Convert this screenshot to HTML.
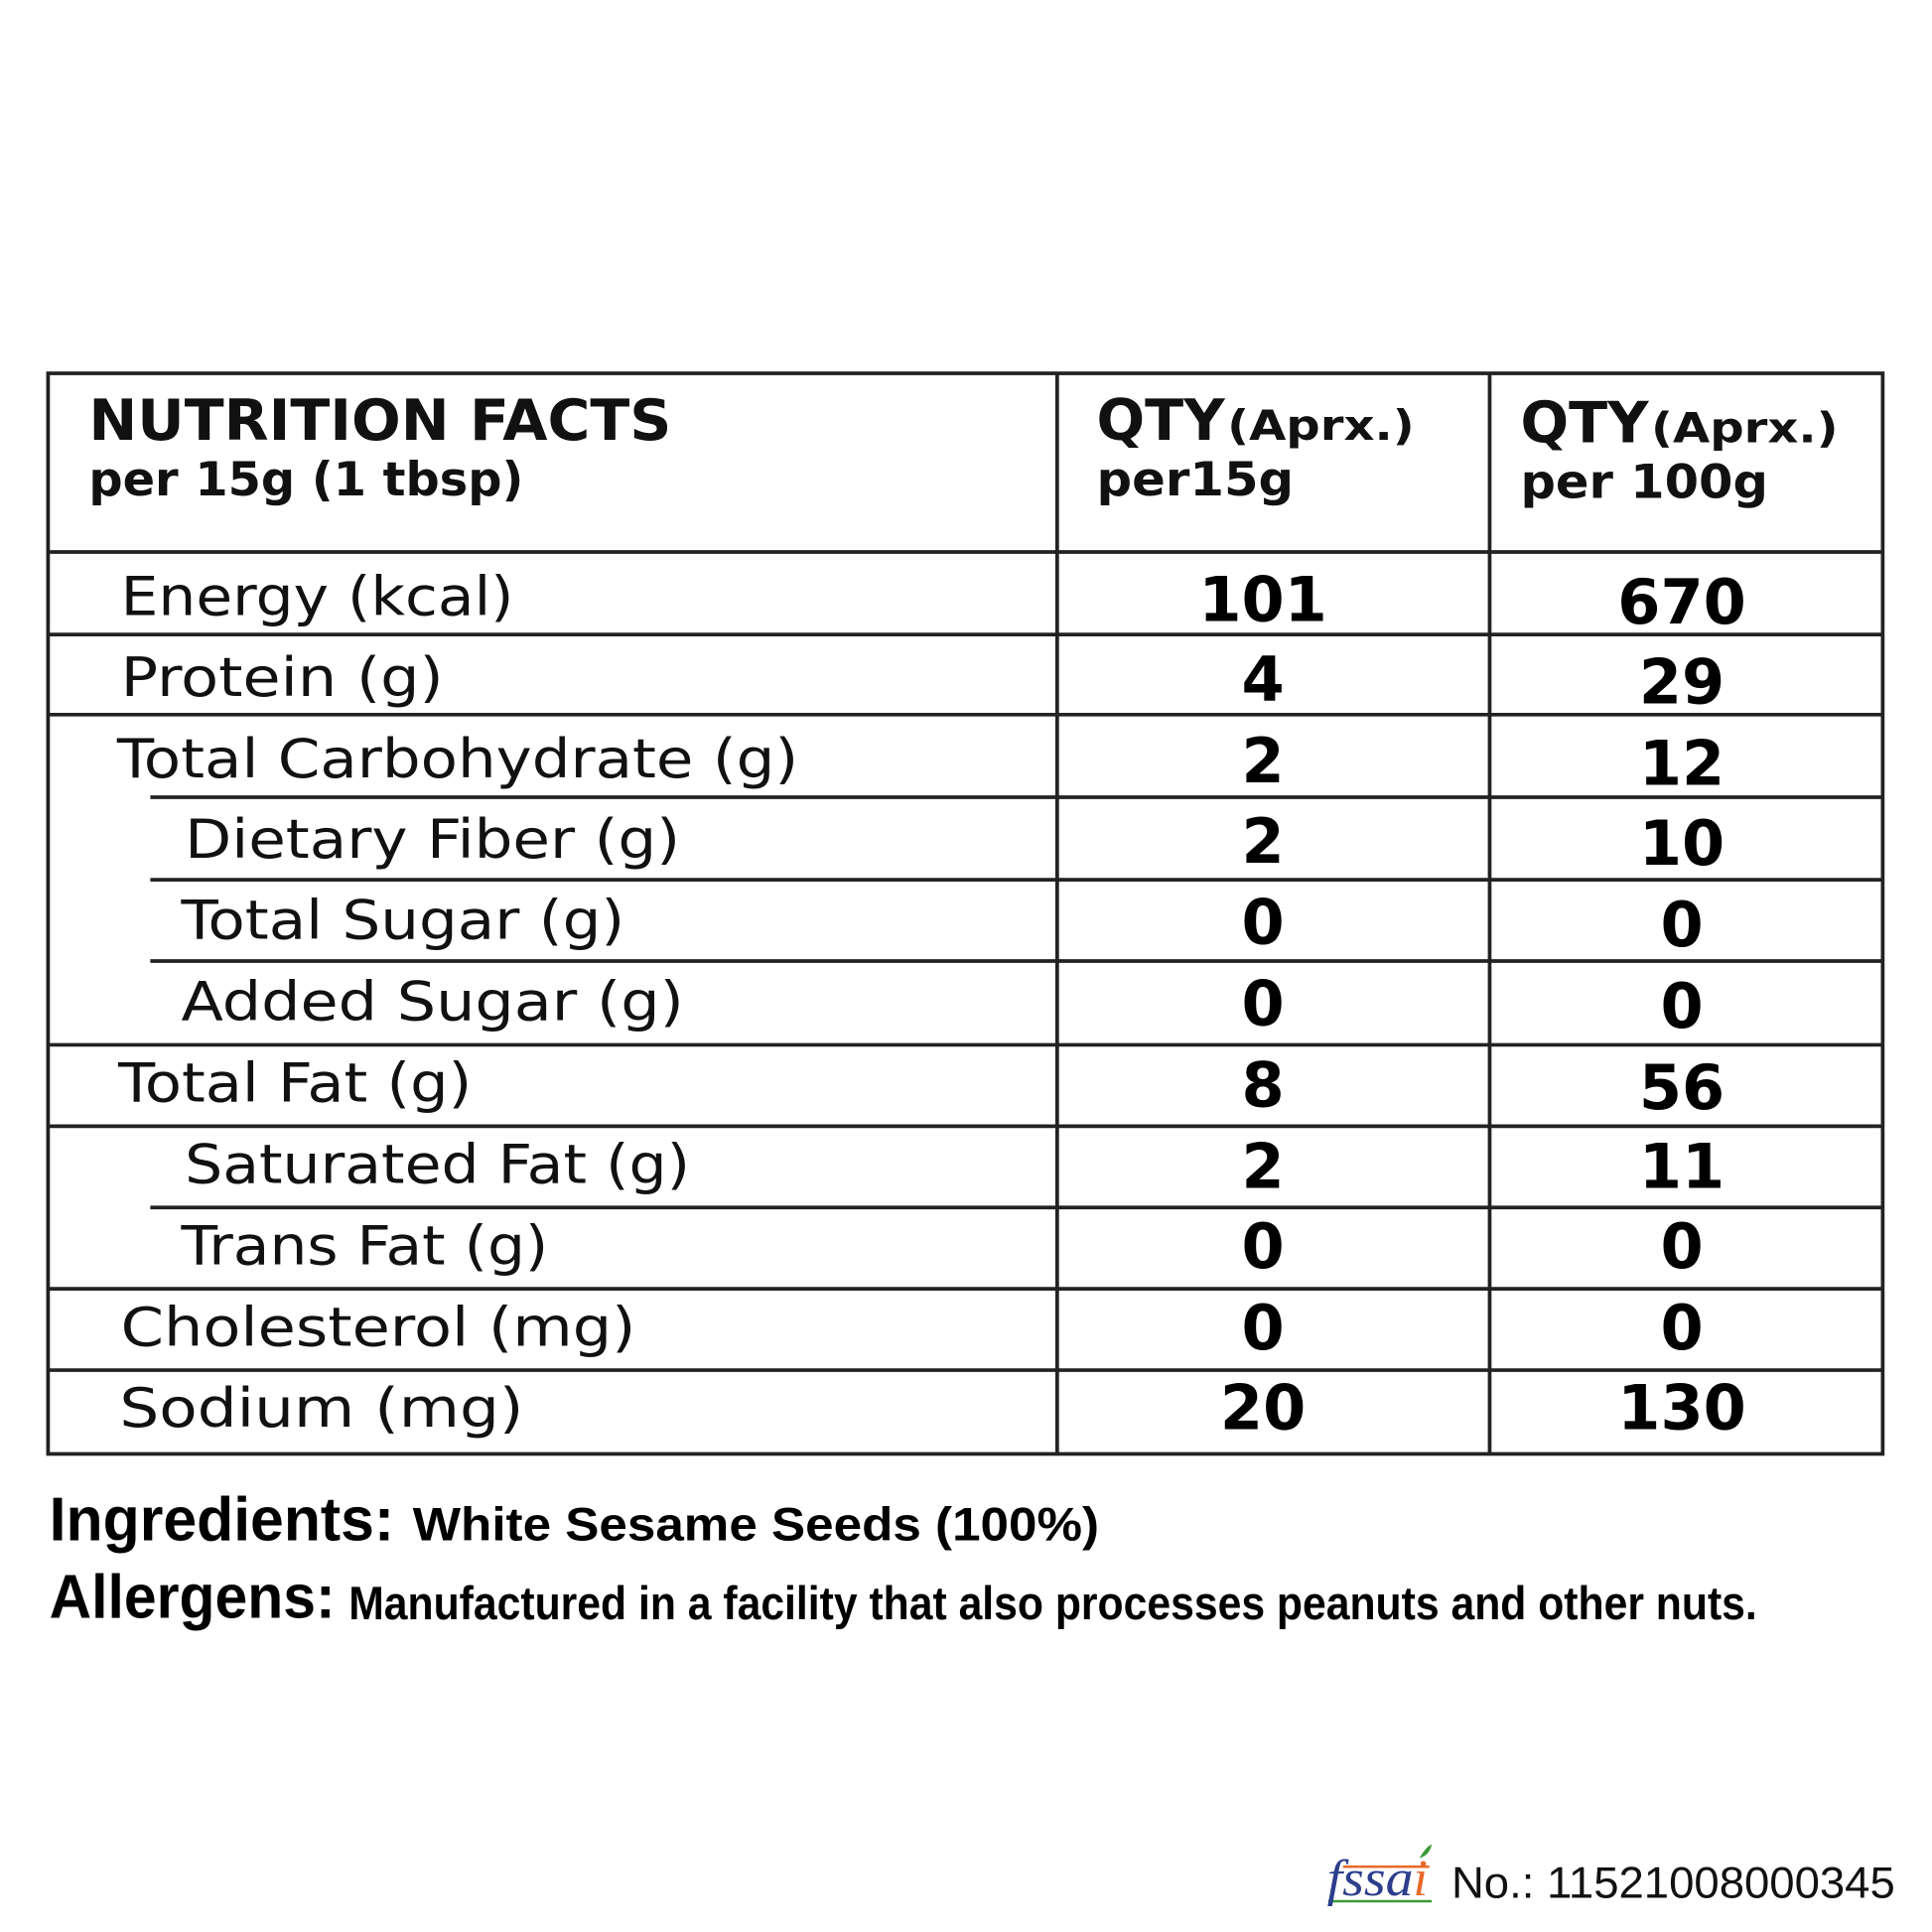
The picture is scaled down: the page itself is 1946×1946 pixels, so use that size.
<!DOCTYPE html>
<html><head><meta charset="utf-8"><style>
html,body{margin:0;padding:0;background:#fff;width:1946px;height:1946px;overflow:hidden}
svg{display:block}
.h{font-family:"DejaVu Sans","Liberation Sans",sans-serif;font-weight:bold;fill:#111}
.l{font-family:"DejaVu Sans","Liberation Sans",sans-serif;font-size:44px;fill:#111}
.n{font-family:"DejaVu Sans","Liberation Sans",sans-serif;font-weight:bold;font-size:50px;fill:#000;text-anchor:middle}
.f{font-family:"Liberation Sans",sans-serif;font-weight:bold;fill:#000}
</style></head><body>
<svg width="1946" height="1946" viewBox="0 0 1568 1568" xmlns="http://www.w3.org/2000/svg">
<g stroke="#222" stroke-width="3" fill="none">
<rect x="39" y="303" width="1489" height="877"/>
<line x1="858" y1="303" x2="858" y2="1180"/>
<line x1="1209" y1="303" x2="1209" y2="1180"/>
<line x1="39" y1="448" x2="1528" y2="448"/>
<line x1="39" y1="515" x2="1528" y2="515"/>
<line x1="39" y1="580" x2="1528" y2="580"/>
<line x1="122" y1="647" x2="1528" y2="647"/>
<line x1="122" y1="714" x2="1528" y2="714"/>
<line x1="122" y1="780" x2="1528" y2="780"/>
<line x1="39" y1="848" x2="1528" y2="848"/>
<line x1="39" y1="914" x2="1528" y2="914"/>
<line x1="122" y1="980" x2="1528" y2="980"/>
<line x1="39" y1="1046" x2="1528" y2="1046"/>
<line x1="39" y1="1112" x2="1528" y2="1112"/>
</g>
<text class="h" x="72" y="357" font-size="46" textLength="473" lengthAdjust="spacingAndGlyphs">NUTRITION FACTS</text>
<text class="h" x="72" y="402" font-size="38" textLength="353" lengthAdjust="spacingAndGlyphs">per 15g (1 tbsp)</text>
<text class="h" x="890" y="357" font-size="46" textLength="104" lengthAdjust="spacingAndGlyphs">QTY</text>
<text class="h" x="996" y="357" font-size="34" textLength="152" lengthAdjust="spacingAndGlyphs">(Aprx.)</text>
<text class="h" x="890" y="402" font-size="38" textLength="160" lengthAdjust="spacingAndGlyphs">per15g</text>
<text class="h" x="1234" y="359" font-size="46" textLength="104" lengthAdjust="spacingAndGlyphs">QTY</text>
<text class="h" x="1340" y="359" font-size="34" textLength="152" lengthAdjust="spacingAndGlyphs">(Aprx.)</text>
<text class="h" x="1234" y="404" font-size="38" textLength="201" lengthAdjust="spacingAndGlyphs">per 100g</text>

<text class="l" x="98" y="499" textLength="319" lengthAdjust="spacingAndGlyphs">Energy (kcal)</text>
<text class="l" x="98" y="565" textLength="262" lengthAdjust="spacingAndGlyphs">Protein (g)</text>
<text class="l" x="95" y="631" textLength="553" lengthAdjust="spacingAndGlyphs">Total Carbohydrate (g)</text>
<text class="l" x="150" y="696" textLength="402" lengthAdjust="spacingAndGlyphs">Dietary Fiber (g)</text>
<text class="l" x="147" y="762" textLength="360" lengthAdjust="spacingAndGlyphs">Total Sugar (g)</text>
<text class="l" x="147" y="828" textLength="408" lengthAdjust="spacingAndGlyphs">Added Sugar (g)</text>
<text class="l" x="96" y="894" textLength="287" lengthAdjust="spacingAndGlyphs">Total Fat (g)</text>
<text class="l" x="150" y="960" textLength="410" lengthAdjust="spacingAndGlyphs">Saturated Fat (g)</text>
<text class="l" x="147" y="1026" textLength="298" lengthAdjust="spacingAndGlyphs">Trans Fat (g)</text>
<text class="l" x="98" y="1092" textLength="418" lengthAdjust="spacingAndGlyphs">Cholesterol (mg)</text>
<text class="l" x="97" y="1158" textLength="328" lengthAdjust="spacingAndGlyphs">Sodium (mg)</text>

<g class="n">
<text x="1025" y="504">101</text><text x="1365" y="506">670</text>
<text x="1025" y="569">4</text><text x="1365" y="571">29</text>
<text x="1025" y="635">2</text><text x="1365" y="637">12</text>
<text x="1025" y="700">2</text><text x="1365" y="702">10</text>
<text x="1025" y="766">0</text><text x="1365" y="768">0</text>
<text x="1025" y="832">0</text><text x="1365" y="834">0</text>
<text x="1025" y="898">8</text><text x="1365" y="900">56</text>
<text x="1025" y="964">2</text><text x="1365" y="964">11</text>
<text x="1025" y="1029">0</text><text x="1365" y="1029">0</text>
<text x="1025" y="1095">0</text><text x="1365" y="1095">0</text>
<text x="1025" y="1160">20</text><text x="1365" y="1160">130</text>
</g>

<text class="f" x="40" y="1250" font-size="50" textLength="280" lengthAdjust="spacingAndGlyphs">Ingredients:</text>
<text class="f" x="335" y="1250" font-size="38" textLength="557" lengthAdjust="spacingAndGlyphs">White Sesame Seeds (100%)</text>
<text class="f" x="40" y="1313" font-size="50" textLength="232" lengthAdjust="spacingAndGlyphs">Allergens:</text>
<text class="f" x="283" y="1314" font-size="38" textLength="1143" lengthAdjust="spacingAndGlyphs">Manufactured in a facility that also processes peanuts and other nuts.</text>

<line x1="1078" y1="1543" x2="1162" y2="1543" stroke="#3a9a3a" stroke-width="2"/>
<line x1="1090" y1="1515" x2="1160" y2="1515" stroke="#e8692a" stroke-width="2"/>
<text x="1077" y="1538" font-family="Liberation Serif,serif" font-style="italic" font-size="42" fill="#2d3e8c" textLength="70" lengthAdjust="spacingAndGlyphs">fssa</text>
<text x="1147" y="1538" font-family="Liberation Serif,serif" font-style="italic" font-size="42" fill="#e8692a">i</text>
<path d="M1152 1508 Q1158 1498 1162 1497 Q1160 1506 1152 1508Z" fill="#3a9a3a"/>
<text x="1178" y="1540" font-family="Liberation Sans,sans-serif" font-size="36" fill="#111" textLength="360" lengthAdjust="spacingAndGlyphs">No.: 11521008000345</text>
</svg>
</body></html>
